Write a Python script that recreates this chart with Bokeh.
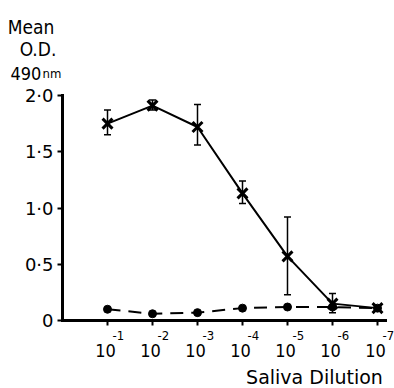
from bokeh.plotting import figure
from bokeh.models import Range1d, FixedTicker, ColumnDataSource, Whisker, TeeHead, Label
from bokeh.core.properties import value
from bokeh.embed import file_html
from bokeh.resources import INLINE

# ---- data ----
positions = [1, 2, 3, 4, 5, 6, 7]
tick_base = ["10", "10", "10", "10", "10", "10", "10"]
tick_exp = ["-1", "-2", "-3", "-4", "-5", "-6", "-7"]
od_cross = [1.75, 1.91, 1.72, 1.13, 0.57, 0.15, 0.11]
err_upper = [1.87, 1.96, 1.92, 1.24, 0.92, 0.24, 0.12]
err_lower = [1.65, 1.87, 1.56, 1.04, 0.23, 0.07, 0.10]
od_dot = [0.10, 0.06, 0.07, 0.11, 0.12, 0.12, 0.11]
y_ticks = [0, 0.5, 1.0, 1.5, 2.0]
y_tick_labels = ["0", "0·5", "1·0", "1·5", "2·0"]

FONT = "DejaVu Sans"
CFONT = "DejaVu Sans Condensed"

p = figure(width=394, height=388, output_backend="svg", toolbar_location=None,
           x_range=Range1d(-1.378, 7.378), y_range=Range1d(-0.6044, 2.8444),
           min_border_left=0, min_border_right=0, min_border_top=0, min_border_bottom=0)
p.outline_line_color = None
p.grid.visible = False
p.background_fill_color = "white"

for ax in (p.xaxis[0], p.yaxis[0]):
    ax.fixed_location = 0
    ax.axis_line_width = 3
    ax.axis_line_color = "black"
    ax.axis_line_cap = "square"
    ax.major_tick_line_width = 2
    ax.major_tick_in = 0
    ax.major_tick_out = 5
    ax.minor_tick_line_color = None
    ax.major_label_text_font = FONT
    ax.major_label_text_color = "black"

p.xaxis.bounds = (0, 7.18)
p.xaxis.ticker = FixedTicker(ticks=positions)
p.xaxis.major_label_text_font_size = "0px"
p.xaxis.major_label_text_color = None

p.yaxis.bounds = (0, 2.0)
p.yaxis.ticker = FixedTicker(ticks=y_ticks)
p.yaxis.major_label_overrides = {k: v for k, v in zip(y_ticks, y_tick_labels)}
p.yaxis.major_label_text_font_size = "18px"
p.yaxis.major_label_standoff = 4

src = ColumnDataSource(dict(x=positions, y=od_cross, up=err_upper, lo=err_lower, d=od_dot,
                            base=tick_base, exp=tick_exp))

# x tick labels: "10" with superscript exponent
p.text(x="x", y=0, text="base", source=src, text_font=value(CFONT), text_font_size="18px",
       text_align="center", text_baseline="alphabetic", x_offset=-2, y_offset=30, text_color="black")
p.text(x="x", y=0, text="exp", source=src, text_font=value(CFONT), text_font_size="13px",
       text_align="left", text_baseline="alphabetic", x_offset=5, y_offset=15, text_color="black")

p.add_layout(Whisker(base="x", upper="up", lower="lo", source=src, line_width=1.5,
                     upper_head=TeeHead(size=7, line_width=1.5),
                     lower_head=TeeHead(size=7, line_width=1.5)))

p.line("x", "d", source=src, line_color="black", line_width=2, line_dash="13 8")
p.scatter("x", "d", source=src, marker="circle", size=8, color="black")

p.line("x", "y", source=src, line_color="black", line_width=2)
p.scatter("x", "y", source=src, marker="x", size=14, line_color="black", line_width=3)

def lab(x, y, t, size, align="center", font=CFONT):
    p.add_layout(Label(x=x, y=y, text=t, text_font=font, text_font_size=size,
                       text_align=align, text_baseline="alphabetic", text_color="black"))

lab(-0.70, 2.613, "Mean", "19px")
lab(-0.544, 2.409, "O.D.", "19px")
lab(-1.156, 2.196, "490", "18px", "left")
lab(-0.444, 2.196, "nm", "13px", "left")
lab(5.6, -0.50, "Saliva Dilution", "19px", "center", FONT)

open("out.html", "w").write(file_html(p, INLINE))
